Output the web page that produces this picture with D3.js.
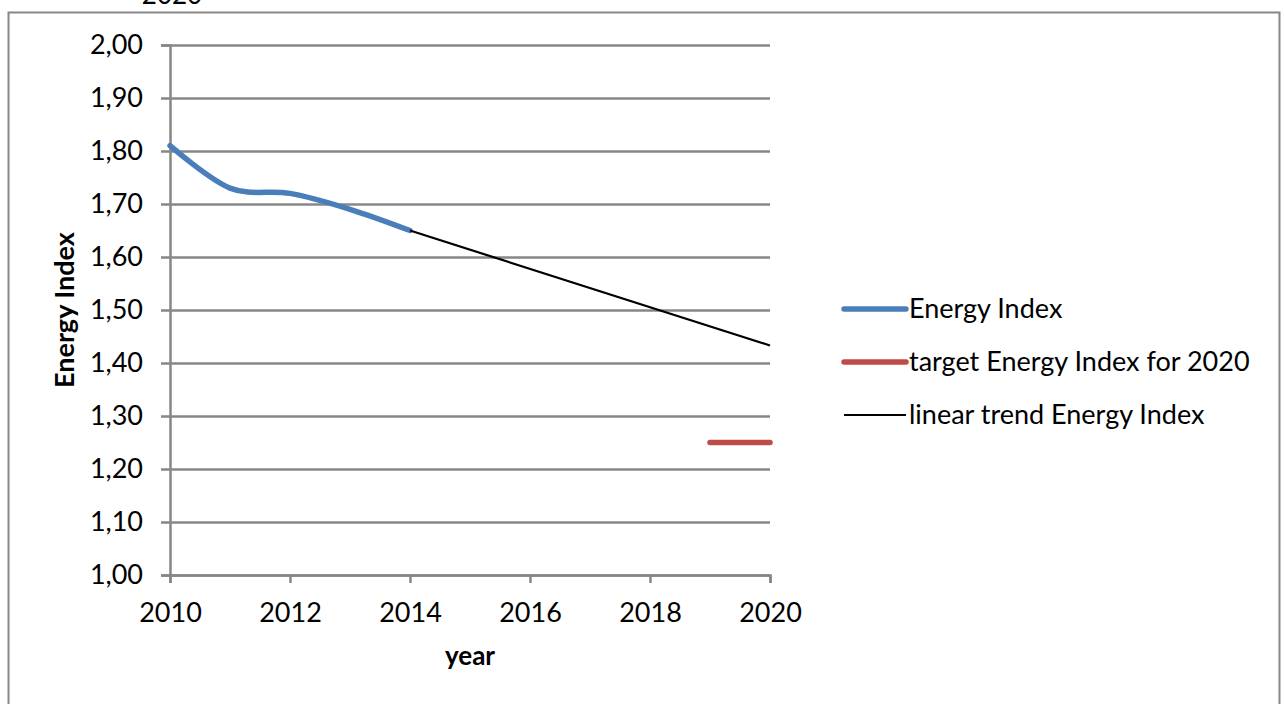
<!DOCTYPE html>
<html>
<head>
<meta charset="utf-8">
<script src="https://cdn.jsdelivr.net/npm/d3@7"></script>
<style>
  body { margin: 0; background: #fff; }
  text { font-family: Lato, "Open Sans", sans-serif; fill: #000; }
</style>
</head>
<body>
<svg id="canvas" width="1284" height="704"></svg>
<script>
// Energy Index per year
const years = [2010, 2011, 2012, 2013, 2014];
const energyIndex = [1.81, 1.73, 1.72, 1.69, 1.65];

// target for 2020
const targetYears = [2019, 2020];
const targetValues = [1.25, 1.25];

// linear trend from the last known value
const trendYears = [2014, 2020];
const trendValues = [1.65, 1.433];

const xTicks = [2010, 2012, 2014, 2016, 2018, 2020];
const yTicks = [1.0, 1.1, 1.2, 1.3, 1.4, 1.5, 1.6, 1.7, 1.8, 1.9, 2.0];

const legendLabels = ["Energy Index", "target Energy Index for 2020", "linear trend Energy Index"];

document.addEventListener("DOMContentLoaded", () => {
  const svg = d3.select("#canvas");
  drawChart(svg);
});

const drawChart = (svg) => {
  const grey = "#878787";
  const fontSize = 27;

  const x = d3.scaleLinear().domain([2010, 2020]).range([170, 770]);
  const y = d3.scaleLinear().domain([1, 2]).range([575, 45]);

  // outer chart border
  svg.append("rect")
    .attr("x", 8.5).attr("y", 12.5)
    .attr("width", 1271).attr("height", 720)
    .attr("fill", "none")
    .attr("stroke", grey)
    .attr("stroke-width", 2);

  // title, cut off at the top like the original
  svg.append("text")
    .attr("x", 172).attr("y", 4)
    .attr("text-anchor", "middle")
    .style("font-size", "26px")
    .text("2020");

  // y axis with gridlines
  const yAxis = svg.append("g")
    .attr("transform", `translate(${x(2010)},0)`)
    .call(d3.axisLeft(y)
      .tickValues(yTicks)
      .tickSize(9)
      .tickPadding(18)
      .tickFormat((d) => d3.format(".2f")(d).replace(".", ",")));

  yAxis.selectAll(".tick line").clone()
    .attr("x2", x(2020) - x(2010));

  // x axis
  const xAxis = svg.append("g")
    .attr("transform", `translate(0,${y(1)})`)
    .call(d3.axisBottom(x)
      .tickValues(xTicks)
      .tickSize(8)
      .tickPadding(20)
      .tickFormat(d3.format("d")));

  [yAxis, xAxis].forEach((g) => {
    g.select(".domain").attr("stroke", grey).attr("stroke-width", 2.5);
    g.selectAll(".tick line").attr("stroke", grey).attr("stroke-width", 2.5);
    g.selectAll(".tick text")
      .style("font-family", "Lato, 'Open Sans', sans-serif")
      .style("font-size", fontSize + "px")
      .attr("fill", "#000");
  });
  xAxis.selectAll(".tick text").attr("dy", "0.71em");

  // axis titles
  svg.append("text")
    .attr("x", (x(2010) + x(2020)) / 2).attr("y", 665)
    .attr("text-anchor", "middle")
    .style("font-size", "26px")
    .style("font-weight", "bold")
    .text("year");

  svg.append("text")
    .attr("transform", `translate(74,${(y(1) + y(2)) / 2}) rotate(-90)`)
    .attr("text-anchor", "middle")
    .style("font-size", "27px")
    .style("font-weight", "bold")
    .text("Energy Index");

  // series
  const smooth = d3.line()
    .x((d) => x(d[0]))
    .y((d) => y(d[1]))
    .curve(d3.curveCardinal.tension(0));
  const straight = d3.line()
    .x((d) => x(d[0]))
    .y((d) => y(d[1]));

  svg.append("path")
    .datum(d3.zip(years, energyIndex))
    .attr("d", smooth)
    .attr("fill", "none")
    .attr("stroke", "#4a7ebb")
    .attr("stroke-width", 5.5)
    .attr("stroke-linecap", "round");

  svg.append("path")
    .datum(d3.zip(targetYears, targetValues))
    .attr("d", straight)
    .attr("fill", "none")
    .attr("stroke", "#be4b48")
    .attr("stroke-width", 5.5)
    .attr("stroke-linecap", "round");

  svg.append("path")
    .datum(d3.zip(trendYears, trendValues))
    .attr("d", straight)
    .attr("fill", "none")
    .attr("stroke", "#000")
    .attr("stroke-width", 2.2);

  // legend
  const legendStyles = [
    { color: "#4a7ebb", width: 5.5, cap: "round" },
    { color: "#be4b48", width: 5.5, cap: "round" },
    { color: "#000", width: 2.2, cap: "butt" },
  ];

  const legend = svg.append("g")
    .selectAll("g")
    .data(legendLabels)
    .enter()
    .append("g")
    .attr("transform", (d, i) => `translate(844,${309 + i * 53})`);

  legend.append("line")
    .attr("x1", 0).attr("x2", 62)
    .attr("stroke", (d, i) => legendStyles[i].color)
    .attr("stroke-width", (d, i) => legendStyles[i].width)
    .attr("stroke-linecap", (d, i) => legendStyles[i].cap);

  legend.append("text")
    .attr("x", 65)
    .attr("dy", "0.35em")
    .style("font-size", fontSize + "px")
    .text((d) => d);
};
</script>
</body>
</html>
